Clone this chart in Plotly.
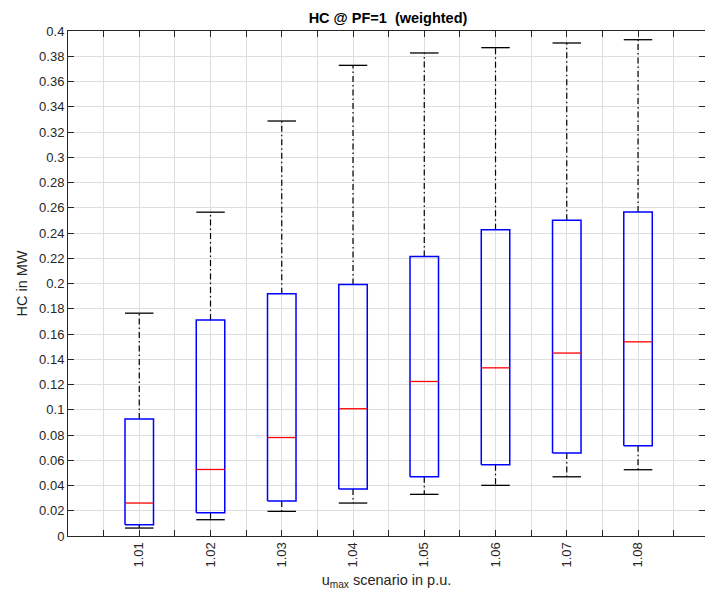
import plotly.graph_objects as go

# u_max scenarios (p.u.) and box statistics (MW)
scenarios = ["1.01", "1.02", "1.03", "1.04", "1.05", "1.06", "1.07", "1.08"]
upper_whisker = [0.1765, 0.2565, 0.3287, 0.3728, 0.3826, 0.3868, 0.3905, 0.3931]
q3 = [0.0926, 0.1710, 0.1918, 0.1992, 0.2213, 0.2425, 0.2501, 0.2567]
median = [0.0261, 0.0527, 0.0780, 0.1008, 0.1224, 0.1332, 0.1449, 0.1538]
q1 = [0.0089, 0.0184, 0.0277, 0.0372, 0.0469, 0.0564, 0.0657, 0.0715]
lower_whisker = [0.0063, 0.0129, 0.0195, 0.0261, 0.0330, 0.0401, 0.0469, 0.0525]

y_ticks = [round(0.02 * i, 2) for i in range(21)]
positions = list(range(1, len(scenarios) + 1))

half = 0.2  # half box width in category units
font = "Liberation Sans, Arial, Helvetica, sans-serif"
ink = "#262626"
grid = "#dedede"

box_x, box_y = [], []
med_x, med_y = [], []
wh_x, wh_y = [], []
cap_x, cap_y = [], []
for i, p in enumerate(positions):
    box_x += [p - half, p + half, p + half, p - half, p - half, None]
    box_y += [q1[i], q1[i], q3[i], q3[i], q1[i], None]
    med_x += [p - half, p + half, None]
    med_y += [median[i], median[i], None]
    wh_x += [p, p, None, p, p, None]
    wh_y += [q3[i], upper_whisker[i], None, q1[i], lower_whisker[i], None]
    cap_x += [p - half, p + half, None, p - half, p + half, None]
    cap_y += [upper_whisker[i], upper_whisker[i], None, lower_whisker[i], lower_whisker[i], None]

fig = go.Figure()
fig.add_trace(go.Scatter(x=wh_x, y=wh_y, mode="lines",
                         line=dict(color="black", width=1.2, dash="6px,3px,1.5px,3px")))
fig.add_trace(go.Scatter(x=cap_x, y=cap_y, mode="lines", line=dict(color="black", width=1.3)))
fig.add_trace(go.Scatter(x=box_x, y=box_y, mode="lines", line=dict(color="#0000ff", width=1.5)))
fig.add_trace(go.Scatter(x=med_x, y=med_y, mode="lines", line=dict(color="#ff0000", width=1.3)))

fig.update_layout(
    width=705, height=600,
    margin=dict(l=68, r=0, t=31, b=64),
    paper_bgcolor="white", plot_bgcolor="white",
    showlegend=False,
    font=dict(family=font, color=ink, size=13),
    title=dict(text="<b>HC @ PF=1  (weighted)</b>", x=388 / 705, xanchor="center",
               y=1 - 18 / 600, yanchor="middle", yref="container",
               font=dict(size=14.5, color="black")),
    xaxis=dict(
        range=[0, 8.94], tickmode="array", tickvals=positions, ticktext=scenarios,
        tickangle=-90, ticks="inside", ticklen=6, tickcolor=ink,
        minor=dict(tick0=0, dtick=0.5, ticks="inside", ticklen=6, tickcolor=ink,
                   showgrid=True, gridcolor=grid, gridwidth=1),
        showline=True, linecolor=ink, linewidth=1, mirror="ticks",
        showgrid=True, gridcolor=grid, gridwidth=1, zeroline=False,
        title=dict(text="u<sub>max</sub> scenario in p.u.", standoff=8,
                   font=dict(size=14.5)),
    ),
    yaxis=dict(
        range=[0, 0.4], tickmode="array", tickvals=y_ticks,
        ticktext=[f"{v:g}" for v in y_ticks],
        ticks="inside", ticklen=6, tickcolor=ink,
        showline=True, linecolor=ink, linewidth=1, mirror="ticks",
        showgrid=True, gridcolor=grid, gridwidth=1, zeroline=False,
        title=dict(text="HC in MW", standoff=8, font=dict(size=14.5)),
    ),
)

# the page body has a default 8px margin; drop it so the figure sits at 0,0
fig.write_html("out.html", config={"displayModeBar": False},
               post_script="document.body.style.margin='0';")
